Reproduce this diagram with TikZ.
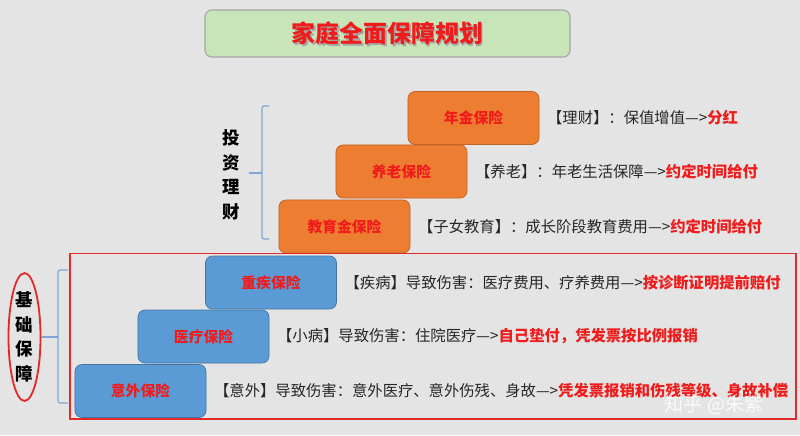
\documentclass[tikz,border=0pt]{standalone}
\usepackage{fontspec}
\setmainfont{Noto Sans CJK SC}
\usetikzlibrary{positioning,shapes.geometric}

\definecolor{bggray}{HTML}{E4E4E4}
\definecolor{planorange}{HTML}{ED7D31}
\definecolor{planblue}{HTML}{5B9BD5}
\definecolor{hlred}{HTML}{F01C1C}
\definecolor{framered}{HTML}{E22A2A}
\definecolor{titlegreen}{HTML}{C8E4B9}
\definecolor{bracecol}{HTML}{7DA6D6}
\newcommand{\hl}[1]{\textcolor{hlred}{\bfseries #1}}

\tikzset{
  planbox/.style={rounded corners=5pt, minimum width=3.275cm, minimum height=1.325cm,
    inner sep=0pt, font=\fontsize{10.5}{12}\selectfont\bfseries, text=hlred},
  oldage/.style={planbox, fill=planorange, draw=planorange!80!black, line width=0.5pt},
  basic/.style={planbox, fill=planblue, draw=planblue!75!black, line width=0.5pt},
  desc/.style={right=2pt of #1, anchor=west, font=\fontsize{10.9}{13}\selectfont, text=black!85},
  bracket/.style={draw=bracecol, line width=0.8pt, rounded corners=1.5pt},
}

\begin{document}
\begin{tikzpicture}[x=0.025cm, y=-0.025cm]
    \fill[bggray] (0,0) rectangle (800,435);

    % title
    \node[draw=black!35, fill=titlegreen, rounded corners=5pt, line width=0.8pt,
          minimum width=9.125cm, minimum height=1.175cm] (title) at (387.5,33.5) {};
    \node[text=black!35, font=\fontsize{17}{20}\selectfont\bfseries] (titleshadow) at (389,35) {家庭全面保障规划};
    \node[text=hlred, font=\fontsize{17}{20}\selectfont\bfseries] (titletext) at (title) {家庭全面保障规划};

    % investment part
    \node[oldage] (nianjin) at (473.5,118) {年金保险};
    \node[oldage] (yanglao) at (401.5,171.5) {养老保险};
    \node[oldage] (jiaoyu) at (344.5,226.5) {教育金保险};

    \node[desc=nianjin] (dnianjin) {【理财】：保值增值—>\hl{分红}};
    \node[desc=yanglao] (dyanglao) {【养老】：年老生活保障—>\hl{约定时间给付}};
    \node[desc=jiaoyu] (djiaoyu) {【子女教育】：成长阶段教育费用—>\hl{约定时间给付}};

    \node[align=center, font=\fontsize{12.4}{17.5}\selectfont\bfseries] (touzi) at (231,175) {投\\资\\理\\财};
    \coordinate (tbrace) at (262,173);
    \draw[bracket] (269,106) -- (262,106) -- (262,239) -- (269,239);
    \draw[bracket] (tbrace) -- (249,173);

    % basic part
    \node[basic] (zhongji) at (271,282.5) {重疾保险};
    \node[basic] (yiliao) at (203.5,336.5) {医疗保险};
    \node[basic] (yiwai) at (140.5,391) {意外保险};

    \node[desc=zhongji] (dzhongji) {【疾病】导致伤害：医疗费用、疗养费用—>\hl{按诊断证明提前赔付}};
    \node[desc=yiliao] (dyiliao) {【小病】导致伤害：住院医疗—>\hl{自己垫付，凭发票按比例报销}};
    \node[desc=yiwai] (dyiwai) {【意外】导致伤害：意外医疗、意外伤残、身故—>\hl{凭发票报销和伤残等级、身故补偿}};

    \draw[framered, line width=1.4pt] (70,253.5) rectangle (796,419);

    \node[ellipse, draw=framered, line width=1.3pt, minimum width=0.8cm, minimum height=2.5cm,
          inner sep=0pt, align=center, font=\fontsize{12.4}{17.5}\selectfont\bfseries] (jichu) at (24.5,337) {基\\础\\保\\障};
    \coordinate (jbrace) at (58,337);
    \draw[bracket] (68,270) -- (58,270) -- (58,403) -- (68,403);
    \draw[bracket] (jichu.east) -- (jbrace);

    % watermark
    \node[text=white, opacity=0.85, font=\fontsize{13.5}{16}\selectfont] (mark) at (714,405) {知乎 @朱紫};
\end{tikzpicture}
\end{document}
